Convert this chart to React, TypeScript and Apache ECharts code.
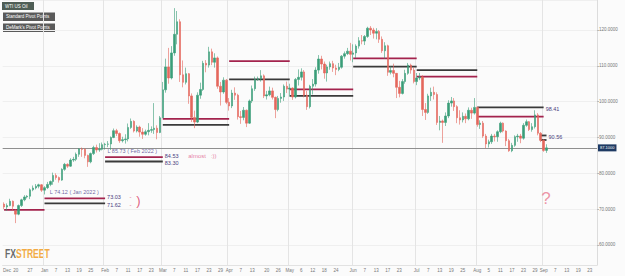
import React, { useEffect, useRef } from "react";
import * as echarts from "echarts";

// candles: [open, close, low, high]
const dec2021 = [
  [71.4, 70.6, 70.0, 71.9], [70.6, 71.0, 69.5, 71.6], [71.0, 72.2, 70.8, 72.9], [72.2, 70.8, 69.6, 72.4],
  [69.5, 68.6, 66.1, 69.9], [68.6, 71.0, 68.3, 71.3], [71.0, 72.6, 70.6, 72.9], [72.6, 73.4, 72.2, 73.9],
  [73.4, 73.6, 73.0, 73.9], [73.6, 75.4, 72.8, 75.8], [75.4, 75.9, 75.0, 76.6], [75.9, 76.4, 75.5, 77.0],
  [76.4, 76.8, 75.8, 77.1], [76.8, 75.3, 74.8, 77.0],
];
const jan2022 = [
  [75.3, 76.0, 74.1, 76.4], [76.0, 76.9, 75.6, 77.6], [76.9, 77.7, 76.4, 78.0], [77.7, 79.4, 76.8, 80.2],
  [79.4, 78.8, 78.2, 80.0], [78.8, 78.1, 77.4, 79.1], [78.1, 81.1, 77.9, 81.4], [81.1, 82.5, 80.7, 82.9],
  [82.5, 82.0, 81.5, 82.8], [82.0, 83.7, 81.8, 84.2], [83.7, 83.9, 83.2, 84.6], [83.9, 85.3, 83.4, 85.8],
  [85.3, 86.8, 84.6, 87.0], [86.8, 86.7, 84.6, 87.2], [86.7, 85.0, 84.2, 87.0], [85.0, 83.2, 81.8, 85.2],
  [83.2, 85.5, 82.8, 85.8], [85.5, 87.2, 85.1, 87.7], [87.2, 86.5, 85.8, 88.0], [86.5, 86.7, 86.0, 88.4],
  [86.7, 88.0, 86.4, 88.6],
];
const feb2022 = [
  [88.0, 88.1, 86.6, 88.5], [88.1, 88.2, 87.3, 89.0], [88.2, 90.0, 86.5, 90.3], [90.0, 91.9, 89.8, 92.5],
  [91.9, 91.1, 90.4, 92.4], [91.1, 89.1, 88.5, 91.4], [89.1, 89.4, 88.6, 90.2], [89.4, 89.6, 88.3, 90.9],
  [89.6, 92.8, 88.9, 93.9], [92.8, 94.5, 92.4, 95.3], [94.5, 91.8, 91.4, 94.8], [91.8, 92.9, 91.4, 93.4],
  [92.9, 91.5, 90.2, 93.3], [91.5, 90.9, 89.6, 92.6], [90.9, 91.6, 90.5, 92.2], [91.6, 92.0, 90.6, 94.0],
  [92.0, 92.2, 91.3, 93.1], [92.2, 92.6, 91.0, 99.6], [92.6, 91.4, 89.5, 93.4], [91.4, 95.5, 91.2, 96.0],
];
const mar2022 = [
  [95.5, 103.3, 95.4, 105.5], [103.3, 109.7, 102.5, 112.0], [109.7, 106.6, 105.0, 115.0], [106.6, 113.6, 106.2, 115.5],
  [113.6, 118.8, 112.8, 126.1], [118.8, 122.3, 116.0, 125.3], [122.3, 107.5, 105.5, 123.0], [107.5, 105.4, 104.0, 111.5],
  [105.4, 107.8, 104.8, 109.5], [107.8, 101.6, 99.4, 108.0], [101.6, 95.6, 94.3, 102.3], [95.6, 94.3, 92.6, 97.5],
  [94.3, 101.8, 94.0, 102.6], [101.8, 103.4, 100.8, 105.3], [103.4, 110.7, 103.0, 111.4], [110.7, 110.2, 108.2, 111.6],
  [110.2, 113.9, 109.5, 115.3], [113.9, 111.0, 110.2, 114.8], [111.0, 112.2, 109.5, 113.5], [112.2, 104.3, 103.6, 112.6],
  [104.3, 102.7, 98.9, 105.5], [102.7, 106.0, 102.2, 106.8], [106.0, 99.8, 99.3, 106.3],
];
const apr2022 = [
  [99.8, 98.8, 97.5, 101.0], [98.8, 102.4, 98.2, 103.3], [102.4, 101.8, 100.5, 104.0], [101.8, 95.8, 95.0, 102.2],
  [95.8, 95.6, 93.8, 97.4], [95.6, 97.6, 94.8, 98.5], [97.6, 94.0, 92.9, 97.8], [94.0, 100.2, 93.8, 100.6],
  [100.2, 103.6, 99.6, 104.5], [103.6, 106.2, 103.0, 107.0], [106.2, 106.4, 105.8, 107.0], [106.4, 107.2, 105.6, 108.8],
  [107.2, 101.6, 101.0, 107.6], [101.6, 101.9, 100.6, 103.0], [101.9, 103.0, 101.5, 104.2], [103.0, 101.2, 100.6, 103.9],
  [101.2, 97.8, 95.4, 101.4], [97.8, 100.9, 97.3, 101.6], [100.9, 101.3, 99.7, 102.4], [101.3, 104.3, 100.2, 104.8],
  [104.3, 103.5, 102.4, 105.6],
];
const may2022 = [
  [103.5, 103.8, 101.4, 105.0], [103.8, 101.3, 100.5, 104.0], [101.3, 106.2, 100.9, 106.6], [106.2, 106.8, 104.5, 109.0],
  [106.8, 108.3, 105.9, 109.3], [108.3, 101.8, 101.2, 108.8], [101.8, 98.6, 97.7, 103.0], [98.6, 104.3, 98.1, 104.7],
  [104.3, 104.9, 102.0, 106.3], [104.9, 108.8, 104.2, 109.6], [108.8, 111.9, 107.8, 113.0], [111.9, 110.5, 109.0, 112.8],
  [110.5, 108.0, 106.4, 111.2], [108.0, 109.7, 105.6, 110.3], [109.7, 110.6, 108.9, 111.2], [110.6, 109.4, 108.3, 111.4],
  [109.4, 109.0, 107.4, 110.3], [109.0, 109.6, 108.5, 110.8], [109.6, 112.7, 109.2, 113.0], [112.7, 113.4, 112.0, 114.0],
  [113.4, 114.1, 113.0, 115.0], [114.1, 113.2, 111.5, 116.4],
];
const jun2022 = [
  [113.2, 113.6, 111.0, 116.0], [113.6, 115.5, 112.2, 116.0], [115.5, 117.0, 114.8, 118.0], [117.0, 116.9, 116.0, 118.6],
  [116.9, 118.2, 115.8, 118.6], [118.2, 120.5, 117.8, 120.9], [120.5, 120.0, 118.6, 121.1], [120.0, 119.1, 117.6, 120.6],
  [119.1, 119.6, 117.4, 120.5], [119.6, 117.4, 116.4, 120.0], [117.4, 114.2, 113.6, 118.2], [114.2, 115.6, 112.0, 116.6],
  [115.6, 108.2, 107.2, 115.9], [108.2, 108.7, 107.6, 109.8], [108.7, 107.9, 106.8, 110.6], [107.9, 104.0, 101.0, 108.0],
  [104.0, 102.3, 101.2, 105.8], [102.3, 105.6, 102.0, 106.3], [105.6, 107.9, 105.0, 108.9], [107.9, 110.2, 107.5, 110.8],
  [110.2, 108.8, 107.8, 110.6], [108.8, 105.6, 105.1, 109.5],
];
const jul2022 = [
  [105.6, 106.6, 104.6, 108.0], [106.6, 106.9, 106.0, 108.0], [106.9, 97.8, 96.0, 107.4], [97.8, 97.0, 94.9, 99.6],
  [97.0, 101.6, 96.6, 102.2], [101.6, 102.6, 100.2, 103.9], [102.6, 102.0, 100.6, 104.2], [102.0, 94.2, 93.5, 102.6],
  [94.2, 94.6, 92.0, 96.0], [94.6, 94.2, 88.5, 95.0], [94.2, 96.0, 93.2, 97.0], [96.0, 99.6, 95.4, 100.4],
  [99.6, 100.2, 98.6, 101.3], [100.2, 98.6, 97.4, 101.0], [98.6, 95.5, 94.0, 99.0], [95.5, 94.9, 93.6, 97.6],
  [94.9, 95.9, 94.2, 97.0], [95.9, 95.2, 94.0, 96.7], [95.2, 97.6, 94.8, 98.4], [97.6, 96.8, 95.2, 98.3],
  [96.8, 98.4, 96.4, 101.0],
];
const aug2022 = [
  [98.4, 93.6, 93.0, 98.6], [93.6, 94.0, 92.4, 94.8], [94.0, 90.4, 89.9, 94.6], [90.4, 88.2, 87.0, 91.0],
  [88.2, 88.8, 87.2, 89.4], [88.8, 90.4, 88.2, 91.0], [90.4, 90.2, 88.9, 91.0], [90.2, 91.6, 88.8, 92.0],
  [91.6, 94.0, 91.2, 94.4], [94.0, 91.8, 91.4, 94.2], [91.8, 89.1, 87.6, 92.0], [89.1, 86.3, 86.0, 89.6],
  [86.3, 87.8, 85.9, 88.5], [87.8, 90.2, 87.4, 90.6], [90.2, 90.4, 88.8, 91.0], [90.4, 89.8, 88.4, 91.0],
  [89.8, 93.4, 89.4, 94.0], [93.4, 94.4, 93.0, 95.0], [94.4, 92.2, 91.8, 94.6], [92.2, 93.0, 91.6, 94.0],
  [93.0, 96.3, 92.5, 97.6], [96.3, 91.2, 90.6, 96.8], [91.2, 89.2, 88.7, 91.5],
];
const sep2022 = [
  [89.2, 86.4, 86.0, 89.5], [86.4, 87.1, 85.7, 88.1],
];

const firstDay = "2021-12-14";
const lastDay = "2022-09-27";
const currentPrice = 87.1;

const tickDates = [
  "2021-12-15", "2021-12-20", "2021-12-27", "2022-01-03", "2022-01-07", "2022-01-13", "2022-01-19", "2022-01-25",
  "2022-02-01", "2022-02-07", "2022-02-11", "2022-02-17", "2022-02-23", "2022-03-01", "2022-03-07", "2022-03-11",
  "2022-03-17", "2022-03-23", "2022-03-29", "2022-04-01", "2022-04-07", "2022-04-13", "2022-04-20", "2022-04-26",
  "2022-05-02", "2022-05-06", "2022-05-12", "2022-05-18", "2022-05-24", "2022-06-01", "2022-06-07", "2022-06-13",
  "2022-06-17", "2022-06-23", "2022-07-01", "2022-07-07", "2022-07-13", "2022-07-19", "2022-07-25", "2022-08-01",
  "2022-08-05", "2022-08-11", "2022-08-17", "2022-08-23", "2022-08-29", "2022-09-01", "2022-09-07", "2022-09-13",
  "2022-09-19", "2022-09-23",
];
const tickTexts = [
  "Dec", "20", "27", "Jan", "7", "13", "19", "25",
  "Feb", "7", "11", "17", "23", "Mar", "7", "11",
  "17", "23", "29", "Apr", "7", "13", "20", "26",
  "May", "6", "12", "18", "24", "Jun", "7", "13",
  "17", "23", "Jul", "7", "13", "19", "25", "Aug",
  "5", "11", "17", "23", "29", "Sep", "7", "13",
  "19", "23",
];
const monthStarts = [
  "2022-01-03", "2022-02-01", "2022-03-01", "2022-04-01", "2022-05-02",
  "2022-06-01", "2022-07-01", "2022-08-01", "2022-09-01",
];

const pivotFrom = [
  "2021-12-14", "2022-01-03", "2022-01-03", "2022-02-01", "2022-02-01", "2022-03-01", "2022-03-01",
  "2022-04-01", "2022-04-01", "2022-05-02", "2022-05-02", "2022-06-01", "2022-06-01", "2022-07-01",
  "2022-07-01", "2022-08-01", "2022-08-01", "2022-08-31", "2022-08-31",
];
const pivotTo = [
  "2022-01-03", "2022-02-01", "2022-02-01", "2022-03-01", "2022-03-01", "2022-04-01", "2022-04-01",
  "2022-05-02", "2022-05-02", "2022-06-01", "2022-06-01", "2022-07-01", "2022-07-01", "2022-08-01",
  "2022-08-01", "2022-09-01", "2022-09-01", "2022-09-02", "2022-09-02",
];
const pivotValue = [69.8, 73.03, 71.62, 84.53, 83.3, 95.2, 93.5, 111.3, 106.2, 103.4, 101.6, 112.1, 109.8, 107.0, 108.8, 95.8, 98.41, 89.3, 90.56];
const pivotKind = ["s", "s", "d", "s", "d", "s", "d", "s", "d", "s", "d", "s", "d", "s", "d", "s", "d", "d", "d"];
const pivotLabel = ["", "73.03", "71.62", "84.53", "83.30", "", "", "", "", "", "", "", "", "", "", "", "98.41", "", "90.56"];

const noteDates = ["2022-02-02", "2022-01-05", "2022-03-14", "2022-02-14", "2022-02-14", "2022-02-16", "2022-09-02"];
const noteValues = [86.2, 74.6, 84.8, 73.3, 71.0, 72.4, 72.8];
const noteTexts = ["L 85.73 ( Feb 2022 )", "L 74.12 ( Jan 2022 )", "almost   :))", "-", "-", ")", "?"];
const noteKinds = ["level", "level", "remark", "dash", "dash", "smile", "question"];

function weekdays(start: string, end: string): string[] {
  const out: string[] = [];
  const d = new Date(start + "T00:00:00Z");
  const e = new Date(end + "T00:00:00Z");
  while (d.getTime() <= e.getTime()) {
    const wd = d.getUTCDay();
    if (wd !== 0 && wd !== 6) out.push(d.toISOString().slice(0, 10));
    d.setUTCDate(d.getUTCDate() + 1);
  }
  return out;
}

const noteStyles: Record<string, any> = {
  level: { fontSize: 5.5, color: "#4a3b8b", align: "left" },
  remark: { fontSize: 6, color: "#e0588a", align: "left" },
  dash: { fontSize: 6, color: "#d2335c", align: "center" },
  smile: { fontSize: 13, color: "#d8355e", align: "left" },
  question: { fontSize: 17, color: "#e97a90", align: "center" },
};

function buildOption() {
  const categories = weekdays(firstDay, lastDay);
  const candles = [
    ...dec2021, ...jan2022, ...feb2022, ...mar2022, ...apr2022,
    ...may2022, ...jun2022, ...jul2022, ...aug2022, ...sep2022,
  ];
  const idxOf = new Map<string, number>();
  categories.forEach((d, i) => idxOf.set(d, i));
  const tickMap = new Map<number, string>();
  tickDates.forEach((d, i) => {
    const k = idxOf.get(d);
    if (k !== undefined) tickMap.set(k, tickTexts[i]);
  });
  const monthSet = new Set<number>();
  monthStarts.forEach((d) => {
    const k = idxOf.get(d);
    if (k !== undefined) monthSet.add(k);
  });

  const pivotSeries = pivotValue.map((v, i) => {
    const color = pivotKind[i] === "s" ? "#a3234d" : "#3a3a3a";
    const s: any = {
      type: "line",
      data: [[pivotFrom[i], v], [pivotTo[i], v]],
      symbol: "none",
      silent: true,
      z: 4,
      lineStyle: { color, width: 1.8 },
    };
    if (pivotLabel[i]) {
      // upper line of a close pair nudges its label up, lower nudges down
      const pairUp = pivotKind[i] === "s";
      s.endLabel = {
        show: true,
        formatter: pivotLabel[i],
        color: "#4a4080",
        fontSize: 5.5,
        distance: 2,
        offset: [0, pairUp ? -1.2 : 1.2],
      };
    }
    return s;
  });

  const noteSeries = {
    type: "scatter",
    silent: true,
    z: 6,
    symbolSize: 1,
    itemStyle: { color: "rgba(0,0,0,0)" },
    data: noteDates.map((d, i) => {
      const st = noteStyles[noteKinds[i]];
      return {
        value: [d, noteValues[i]],
        label: {
          show: true,
          position: [0, 0],
          formatter: noteTexts[i],
          fontSize: st.fontSize,
          color: st.color,
          align: st.align,
          verticalAlign: "middle",
        },
      };
    }),
  };

  return {
    animation: false,
    backgroundColor: "#fbfbfb",
    textStyle: { fontFamily: "Liberation Sans, Arial, sans-serif" },
    grid: { left: 0, right: 28, top: 0, bottom: 11 },
    xAxis: {
      type: "category",
      data: categories,
      boundaryGap: true,
      axisLine: { show: true, lineStyle: { color: "#e2e2e2" } },
      axisTick: { show: false },
      axisLabel: {
        interval: (i: number) => tickMap.has(i),
        formatter: (_v: string, i: number) => tickMap.get(i) ?? "",
        fontSize: 4.5,
        color: "#777",
        margin: 3,
      },
      splitLine: {
        show: true,
        interval: (i: number) => monthSet.has(i),
        lineStyle: { color: "#e4e4e4", width: 1 },
      },
    },
    yAxis: {
      type: "value",
      position: "right",
      min: 54.41,
      max: 128.37,
      splitNumber: 7,
      axisLine: { show: true, lineStyle: { color: "#dcdcdc" } },
      axisTick: { show: true, length: 2, lineStyle: { color: "#bbb" } },
      axisLabel: {
        fontSize: 4.5,
        color: "#777",
        margin: 2,
        showMinLabel: false,
        showMaxLabel: false,
        formatter: (v: number) => v.toFixed(4),
      },
      splitLine: { show: true, lineStyle: { color: "#efefef" } },
    },
    series: [
      {
        type: "candlestick",
        name: "WTI US Oil",
        data: candles,
        barWidth: 2,
        z: 5,
        itemStyle: {
          color: "#3a9e78",
          color0: "#e4675c",
          borderColor: "#3a9e78",
          borderColor0: "#e4675c",
          borderWidth: 0.6,
        },
        markLine: {
          silent: true,
          symbol: "none",
          data: [{ yAxis: currentPrice }],
          lineStyle: { color: "#8f8f8f", width: 1, type: "solid" },
          label: {
            show: true,
            position: "end",
            distance: 1,
            formatter: currentPrice.toFixed(4),
            backgroundColor: "#1e3a63",
            color: "#fff",
            fontSize: 4,
            padding: [1.5, 2],
          },
        },
      },
      ...pivotSeries,
      noteSeries,
    ],
    graphic: [
      { type: "rect", shape: { x: 2, y: 2, width: 32, height: 8 }, style: { fill: "#4f5e56" } },
      { type: "text", x: 5, y: 6, style: { text: "WTI US Oil", fill: "#fff", fontSize: 4.5, verticalAlign: "middle" } },
      { type: "rect", shape: { x: 3, y: 12.5, width: 52, height: 8.5 }, style: { fill: "#5a5a5a" } },
      { type: "text", x: 6, y: 16.8, style: { text: "Standard Pivot Points", fill: "#fff", fontSize: 4.5, verticalAlign: "middle" } },
      { type: "rect", shape: { x: 3, y: 23.5, width: 52, height: 8.5 }, style: { fill: "#5a5a5a" } },
      { type: "text", x: 6, y: 27.8, style: { text: "DeMark's Pivot Points", fill: "#fff", fontSize: 4.5, verticalAlign: "middle" } },
      {
        type: "text",
        x: 5,
        y: 247,
        scaleX: 0.66,
        style: {
          text: "{a|FX}{b|STREET}",
          rich: {
            a: { fontSize: 13, fontWeight: "bold", fill: "#6a6a6a", fontFamily: "Liberation Sans" },
            b: { fontSize: 13, fontWeight: "bold", fill: "#f2ab45", fontFamily: "Liberation Sans" },
          },
        },
      },
    ],
  };
}

export default function App() {
  const ref = useRef<HTMLDivElement>(null);
  useEffect(() => {
    if (!ref.current) return;
    const chart = echarts.init(ref.current, undefined, { renderer: "svg" });
    chart.setOption(buildOption() as any);
    return () => chart.dispose();
  }, []);
  return (
    <div
      ref={ref}
      style={{ position: "fixed", left: 0, top: 0, width: 625, height: 276 }}
    />
  );
}
